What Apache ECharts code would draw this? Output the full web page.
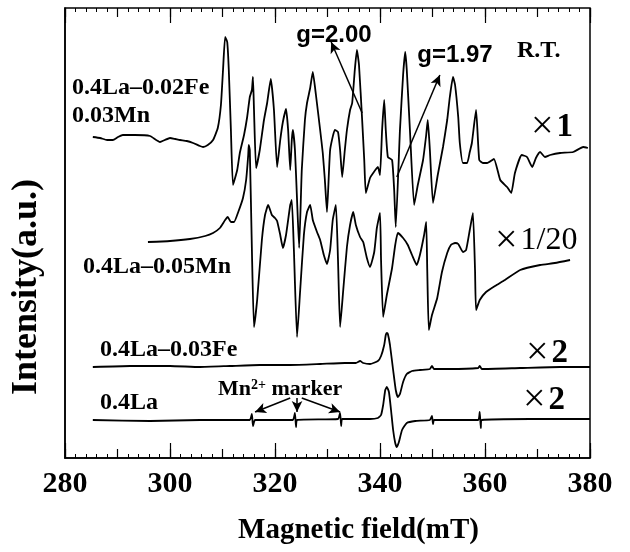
<!DOCTYPE html>
<html><head><meta charset="utf-8">
<script src="https://cdn.jsdelivr.net/npm/echarts@6/dist/echarts.min.js"></script>
<style>html,body{margin:0;padding:0;background:#fff}#c{width:630px;height:552px}</style>
</head><body><div id="c"></div>
<script>
// Field (mT), intensity (a.u., offset stacked)
const spec1 = [[285.3,321],[286.7,320],[288.0,318],[289.1,318],[290.1,321],[291.0,323],[293.3,323],[296.2,322],[298.1,316],[299.0,318],[300.0,320],[301.0,319],[301.9,318],[303.2,317],[304.4,315],[305.7,312],[306.3,311],[307.2,313],[308.2,318],[309.1,330],[309.7,353],[310.1,388],[310.5,421],[310.9,416],[311.2,388],[311.6,328],[312.0,273],[312.8,288],[313.3,305],[314.1,323],[314.7,341],[315.2,361],[315.6,368],[315.8,381],[316.0,348],[316.4,290],[317.1,308],[317.9,338],[318.5,355],[319.2,379],[319.8,348],[320.4,291],[321.0,318],[321.5,336],[322.1,349],[322.5,328],[322.9,288],[323.2,318],[323.4,328],[323.8,308],[324.2,258],[324.6,210],[325.1,288],[325.7,338],[326.1,355],[326.7,370],[327.2,386],[327.8,363],[328.6,328],[329.1,305],[329.5,278],[329.9,246],[330.5,308],[331.4,328],[332.0,326],[332.4,308],[332.8,281],[333.3,308],[333.7,328],[334.3,348],[334.7,355],[335.2,388],[335.6,408],[336.0,393],[336.6,338],[337.0,298],[337.3,265],[338.1,280],[338.7,285],[339.6,291],[340.0,283],[340.4,328],[340.8,358],[341.1,328],[341.5,301],[342.3,298],[342.7,268],[343.0,231],[343.8,328],[344.4,383],[344.8,406],[345.1,388],[345.7,328],[346.5,253],[347.2,273],[348.2,298],[348.8,323],[349.1,338],[349.5,308],[350.1,255],[351.0,283],[352.0,311],[352.8,338],[353.3,361],[353.9,381],[354.3,373],[354.9,341],[355.2,315],[355.8,295],[356.6,295],[357.1,306],[357.5,315],[358.3,348],[358.9,298],[359.6,295],[360.4,295],[361.7,299],[362.9,278],[364.2,271],[365.0,265],[365.7,285],[367.0,303],[368.0,301],[369.0,291],[369.7,300],[370.5,306],[371.4,301],[372.4,303],[374.3,305],[376.8,306],[378.7,311],[379.6,310]];
const spec2 = [[295.8,216],[300.0,217],[303.8,219],[306.7,222],[308.2,225],[309.5,230],[310.5,238],[311.0,241],[311.6,236],[312.2,236],[313.0,246],[313.9,260],[314.5,278],[314.9,303],[315.0,313],[315.2,308],[315.6,208],[316.0,131],[316.6,158],[317.5,218],[318.1,243],[318.7,253],[319.4,243],[320.0,240],[320.4,237],[321.0,223],[321.5,210],[322.1,223],[322.9,253],[323.2,258],[323.6,208],[324.2,121],[324.8,168],[325.5,223],[326.1,246],[326.7,253],[327.2,238],[328.0,226],[328.6,218],[329.3,203],[329.9,194],[330.5,208],[331.0,238],[331.6,253],[332.0,198],[332.4,131],[333.0,168],[333.7,211],[334.3,233],[334.9,246],[335.4,233],[336.2,221],[336.8,216],[337.5,200],[338.1,191],[338.9,206],[339.4,230],[340.0,245],[340.2,198],[340.6,141],[341.3,163],[342.3,190],[342.9,213],[343.4,225],[344.4,220],[345.3,213],[346.1,203],[347.0,193],[347.6,203],[348.4,223],[348.8,236],[349.0,188],[349.3,128],[349.9,143],[350.9,160],[351.8,186],[352.8,205],[353.5,213],[354.3,215],[354.9,214],[355.8,206],[356.4,208],[357.1,228],[357.7,245],[358.1,188],[358.3,148],[359.0,158],[360.2,166],[361.9,172],[363.8,178],[366.7,188],[370.5,193],[373.3,195],[376.2,198]];
const spec3 = [[285.3,91],[292.4,92],[300.0,92],[305.7,91],[311.4,92],[317.1,93],[322.9,93],[328.6,94],[333.3,95],[335.4,95],[336.2,97],[336.8,95],[338.1,94],[339.6,97],[340.2,102],[340.8,113],[341.1,123],[341.3,125],[341.5,124],[341.9,113],[342.5,88],[343.0,68],[343.4,61],[343.8,64],[344.4,76],[345.1,84],[346.1,87],[347.6,88],[349.5,89],[349.9,92],[350.3,89],[353.3,89],[358.7,90],[359.0,92],[359.4,89],[366.7,90],[374.3,91],[380.0,91]];
const spec4 = [[285.3,38],[296.2,37],[305.7,38],[315.2,38],[315.6,44],[315.8,32],[316.2,38],[323.4,38],[323.8,45],[324.0,31],[324.2,38],[332.0,39],[332.4,45],[332.6,32],[332.8,39],[338.1,39],[339.6,40],[340.2,43],[340.6,53],[341.0,68],[341.3,71],[341.7,66],[342.1,48],[342.5,28],[342.9,15],[343.2,11],[343.6,16],[344.2,28],[345.1,35],[346.7,37],[349.5,38],[349.9,42],[350.1,34],[350.3,38],[358.7,38],[359.0,46],[359.2,30],[359.4,38],[368.6,39],[380.0,39]];
const seriesNames = ['0.4La–0.02Fe–0.03Mn','0.4La–0.05Mn','0.4La–0.03Fe','0.4La'];
const xTickLabels = [280,300,320,340,360,380];
// annotation arrows [tail, tip] in data coords
const gArrows = [[[336.6,345],[330.7,416]],[[343.2,281],[351.4,383]]];
const markerArrows = [[[322.9,60],[316.2,46]],[[324.2,60],[324.2,46]],[[325.1,60],[332.4,46]]];

const SERIF = '"Liberation Serif","Times New Roman",serif';
const SANS = '"Liberation Sans",Arial,sans-serif';
const chart = echarts.init(document.getElementById('c'), null, {renderer:'canvas'});

function arrowLine(list){
  return {silent:true, symbol:['none','arrow'], symbolSize:[8,11], label:{show:false},
    lineStyle:{color:'#000', width:1.5, type:'solid'},
    data: list.map(a=>[{coord:a[0]},{coord:a[1]}])};
}
const lineSeries = [spec1,spec2,spec3,spec4].map((d,i)=>({
  type:'line', name:seriesNames[i], data:d, showSymbol:false, symbol:'none',
  smooth:0.15, lineStyle:{color:'#000', width:1.8}, xAxisIndex:0, yAxisIndex:0,
  animation:false
}));
lineSeries[0].markLine = arrowLine(gArrows);
lineSeries[3].markLine = arrowLine(markerArrows);

const tickAxis = (pos, interval, len, minor, labels) => ({
  type:'value', position:pos, min:280, max:380, interval:interval,
  axisLine:{show: pos==='bottom' && labels, lineStyle:{color:'#000', width:1.5}},
  axisTick:{show:true, inside:true, length:len, lineStyle:{color:'#000', width:1.2}},
  minorTick: minor ? {show:true, splitNumber:5, length:4, lineStyle:{color:'#000', width:1}} : {show:false},
  splitLine:{show:false}, minorSplitLine:{show:false},
  axisLabel:{show:!!labels, margin:11, color:'#000', fontFamily:SERIF, fontWeight:'bold', fontSize:30,
    formatter:v=> xTickLabels.includes(v) ? String(v) : ''},
  name: labels ? 'Magnetic field(mT)' : '', nameLocation:'middle', nameGap:58,
  nameTextStyle:{color:'#000', fontFamily:SERIF, fontWeight:'bold', fontSize:29, padding:[0,0,0,62]}
});

const texts = [
  {t:'0.4La–0.02Fe', x:72, y:88},
  {t:'0.03Mn', x:72, y:116},
  {t:'0.4La–0.05Mn', x:83, y:267},
  {t:'0.4La–0.03Fe', x:100, y:350},
  {t:'0.4La', x:100, y:403},
  {t:'R.T.', x:517, y:51}
];
const graphics = texts.map(o=>({type:'text', x:o.x, y:o.y, silent:true,
  style:{text:o.t, font:'bold 24px '+SERIF, fill:'#000', textAlign:'left', textVerticalAlign:'middle'}}));
graphics.push({type:'text', x:334, y:35, style:{text:'g=2.00', font:'bold 24px '+SANS, fill:'#000', textAlign:'center', textVerticalAlign:'middle'}});
graphics.push({type:'text', x:455, y:55, style:{text:'g=1.97', font:'bold 24px '+SANS, fill:'#000', textAlign:'center', textVerticalAlign:'middle'}});
const mult = [
  {t:'{x|×}{b|1}', x:531, y:127},
  {t:'{x|×}{n|1/20}', x:495, y:241},
  {t:'{x|×}{b|2}', x:526, y:353},
  {t:'{x|×}{b|2}', x:523, y:400}
];
mult.forEach(o=>graphics.push({type:'text', x:o.x, y:o.y, silent:true,
  style:{text:o.t, fill:'#000', textAlign:'left', textVerticalAlign:'middle',
    rich:{x:{font:'40px '+SERIF, fill:'#000', padding:[0,3,0,0]}, b:{font:'bold 33px '+SERIF, fill:'#000'}, n:{font:'32px '+SERIF, fill:'#000'}}}}));
graphics.push({type:'text', x:218, y:389, silent:true,
  style:{text:'{b|Mn}{s|2+}{b| marker}', fill:'#000', textAlign:'left', textVerticalAlign:'middle',
    rich:{b:{font:'bold 22px '+SERIF, fill:'#000'}, s:{font:'bold 14px '+SERIF, fill:'#000', verticalAlign:'top'}}}});

chart.setOption({
  animation:false,
  backgroundColor:'#fff',
  grid:{left:65, right:40, top:8, bottom:94, show:true, borderColor:'#000', borderWidth:1.5, backgroundColor:'transparent', containLabel:false},
  xAxis:[ tickAxis('bottom',20,15,false,true), tickAxis('bottom',10,9,true,false),
          tickAxis('top',20,15,false,false), tickAxis('top',10,9,true,false) ],
  yAxis:{type:'value', min:0, max:450, axisLine:{show:true, lineStyle:{color:'#000', width:1.5}},
    axisTick:{show:false}, axisLabel:{show:false}, splitLine:{show:false},
    name:'Intensity(a.u.)', nameLocation:'middle', nameGap:20, nameRotate:90,
    nameTextStyle:{color:'#000', fontFamily:SERIF, fontWeight:'bold', fontSize:36, padding:[0,108,0,0]}},
  series: lineSeries,
  graphic: graphics
});
</script></body></html>
